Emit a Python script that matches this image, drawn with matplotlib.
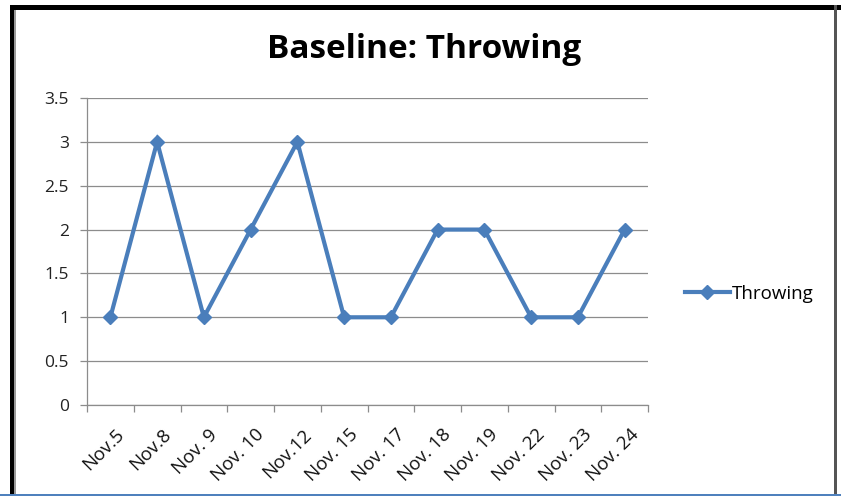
import matplotlib.pyplot as plt
from matplotlib.patches import Rectangle
from matplotlib.lines import Line2D

dates = ["Nov.5", "Nov.8", "Nov. 9", "Nov. 10", "Nov.12", "Nov. 15", "Nov. 17",
         "Nov. 18", "Nov. 19", "Nov. 22", "Nov. 23", "Nov. 24"]
throwing = [1, 3, 1, 2, 3, 1, 1, 2, 2, 1, 1, 2]
y_ticks = [0, 0.5, 1, 1.5, 2, 2.5, 3, 3.5]
y_labels = ["0", "0.5", "1", "1.5", "2", "2.5", "3", "3.5"]

W, H = 841, 496
fig = plt.figure(figsize=(W / 100, H / 100), dpi=100)
fig.patch.set_facecolor("white")

# outer frame
fig.add_artist(Rectangle((10 / W, 0), 4 / W, 1 - 5 / H, transform=fig.transFigure,
                         facecolor="black", edgecolor="none"))
fig.add_artist(Rectangle((14 / W, 0), 2 / W, 1 - 10 / H, transform=fig.transFigure,
                         facecolor="#9A9A9A", edgecolor="none"))
fig.add_artist(Rectangle((10 / W, 1 - 10 / H), 1 - 10 / W, 5 / H, transform=fig.transFigure,
                         facecolor="black", edgecolor="none"))
fig.add_artist(Rectangle((834 / W, 0), 3 / W, 1 - 5 / H, transform=fig.transFigure,
                         facecolor="#555555", edgecolor="none"))
fig.add_artist(Rectangle((0, 0), 1, 2 / H, transform=fig.transFigure,
                         facecolor="#4F81BD", edgecolor="none"))

ax = fig.add_axes([87 / W, (H - 405) / H, 561 / W, 307 / H])
x = list(range(len(dates)))
ax.plot(x, throwing, color="#4A7EBB", lw=3, marker="D", markersize=7.5,
        markeredgecolor="#4A7EBB", markerfacecolor="#4A7EBB", label="Throwing",
        zorder=3, solid_joinstyle="miter")

ax.set_xlim(-0.5, len(dates) - 0.5)
ax.set_ylim(0, 3.5)
ax.set_yticks(y_ticks)
ax.set_yticklabels(y_labels, fontsize=12.5, color="#222222", family="Open Sans")
ax.yaxis.grid(True, color="#8C8C8C", lw=0.9)
ax.set_axisbelow(True)

# category boundary ticks
ax.set_xticks([i - 0.5 for i in range(len(dates) + 1)])
ax.set_xticklabels([])
ax.set_xticks([i + 0.1 for i in x], minor=True)
ax.set_xticklabels(dates, minor=True, rotation=45, ha="right", rotation_mode="anchor",
                   fontsize=13.5, color="#111111", family="Open Sans")
ax.tick_params(axis="x", which="minor", length=0, pad=15)
ax.tick_params(axis="x", which="major", length=5, color="#8C8C8C", width=0.9)
ax.tick_params(axis="y", length=5, color="#8C8C8C", width=0.9, pad=8)

for s in ["top", "right"]:
    ax.spines[s].set_visible(False)
for s in ["left", "bottom"]:
    ax.spines[s].set_color("#8C8C8C")
    ax.spines[s].set_linewidth(0.9)

fig.text(424 / W, 1 - 50 / H, "Baseline: Throwing", ha="center", va="center",
         fontsize=24, fontweight="bold", family="Open Sans", color="black")

fig.legend(handles=[Line2D([], [], color="#4A7EBB", lw=3, marker="D", markersize=7.5)],
           labels=["Throwing"], loc="center left", bbox_to_anchor=(668 / W, 1 - 294 / H),
           frameon=False, handlelength=2.4, handletextpad=0.1,
           prop={"family": "Open Sans", "size": 13.5})

fig.savefig("out.png", dpi=100, facecolor="white")
